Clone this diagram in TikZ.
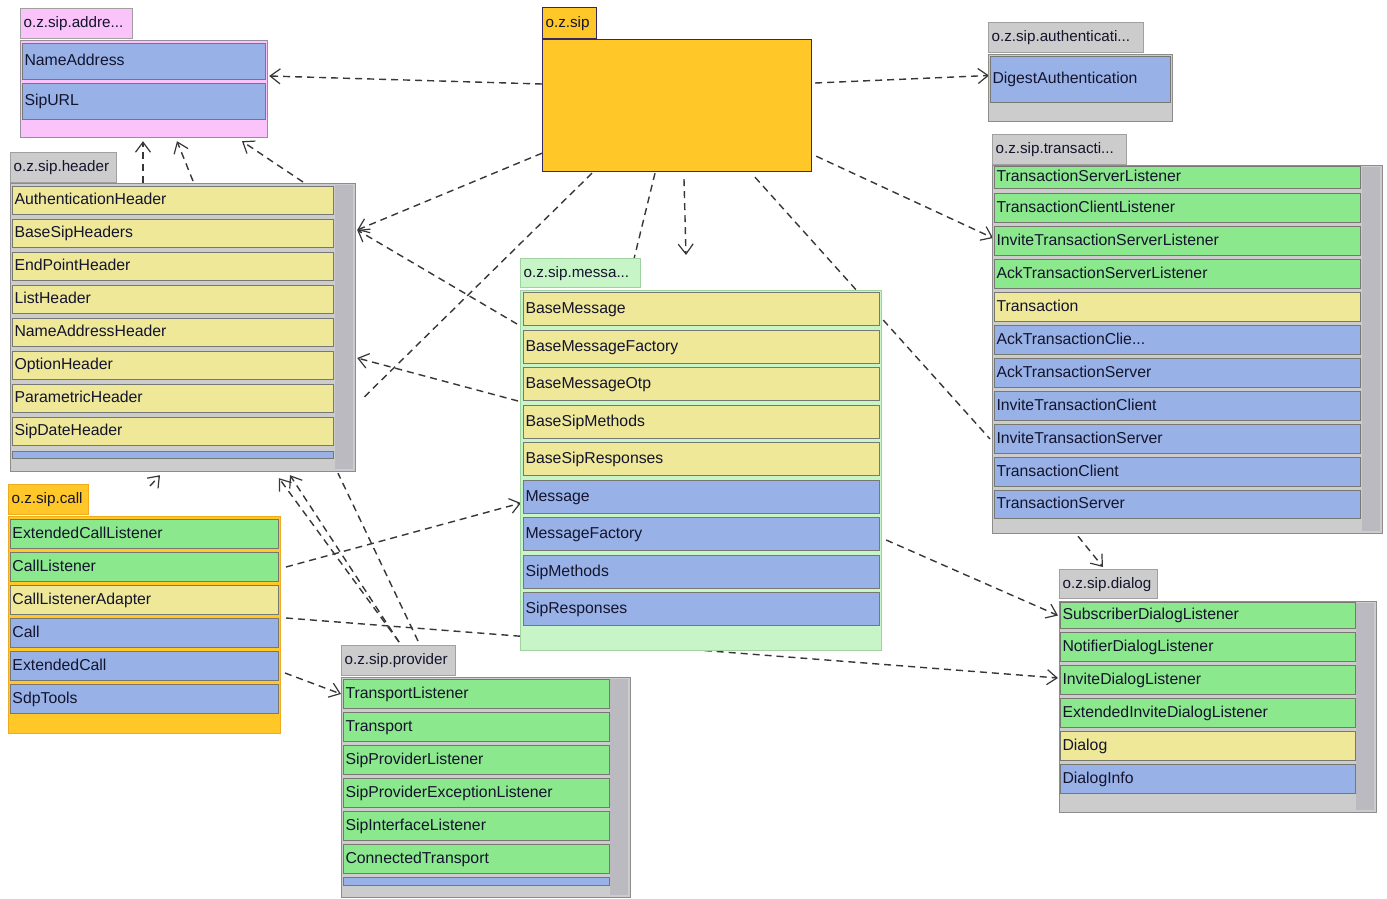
\documentclass[tikz,border=0pt]{standalone}
\usepackage{fontspec}
\setmainfont{Liberation Sans}
\usetikzlibrary{arrows.meta,calc}
\pgfdeclarelayer{back}
\pgfdeclarelayer{lines}
\pgfsetlayers{back,lines,main}

\definecolor{rowblue}{RGB}{152,178,232}
\definecolor{rowyellow}{RGB}{238,232,152}
\definecolor{rowgreen}{RGB}{140,232,140}
\definecolor{msggreen}{RGB}{200,245,200}
\definecolor{msgline}{RGB}{160,210,160}
\definecolor{pkggray}{RGB}{204,204,204}
\definecolor{scrollgray}{RGB}{186,186,192}
\definecolor{pkgpink}{RGB}{250,195,250}
\definecolor{pinkline}{RGB}{150,140,155}
\definecolor{pkgorange}{RGB}{255,200,40}
\definecolor{callline}{RGB}{240,170,30}
\definecolor{sipline}{RGB}{55,40,100}
\definecolor{tabline}{RGB}{160,160,160}
\definecolor{bodyline}{RGB}{140,140,140}
\definecolor{rowline}{RGB}{120,120,115}
\definecolor{connector}{RGB}{55,55,55}
\definecolor{txt}{RGB}{20,20,45}

\newcommand\rowfont{\fontsize{15.8}{18}\selectfont}
\newcommand\tabfont{\fontsize{15.2}{18}\selectfont}

\tikzset{
  pkgbox/.style={draw=#1, line width=1.2pt, anchor=north west, inner sep=0pt},
  tabbox/.style={draw=#1, line width=1.2pt, anchor=north west, inner xsep=3pt, inner ysep=0pt, font=\tabfont, text=txt, align=left, text height=11pt, text depth=3pt},
  rowbox/.style={draw=rowline, line width=1pt, anchor=north west, inner xsep=2pt, inner ysep=0pt, align=left, font=\rowfont, text=txt, text height=11.5pt, text depth=3.5pt},
  depline/.style={draw=connector, line width=1.4pt, dash pattern=on 7pt off 5pt, -{Straight Barb[length=10pt,width=15pt,line width=1.2pt]}},
  plainline/.style={draw=connector, line width=1.4pt, dash pattern=on 7pt off 5pt},
}

% name, x, y, w, h, fill, draw, text
\newcommand\pkgtab[8]{\node[tabbox=#7, fill=#6, text width=#4pt-6pt, minimum height=#5pt] (#1) at (#2,#3) {#8};}
% name, x, y, w, h, fill, draw
\newcommand\pkgbody[7]{\node[pkgbox=#7, fill=#6, minimum width=#4pt, minimum height=#5pt] (#1) at (#2,#3) {};}
% name, x, y, w, h, fill, text
\newcommand\crow[7]{\node[rowbox, fill=#6, text width=#4pt-4pt, minimum height=#5pt] (#1) at (#2,#3) {#7};}

\begin{document}
\begin{tikzpicture}[x=1pt,y=-1pt]
\useasboundingbox (0,0) rectangle (1387,899);
\begin{pgfonlayer}{back}
  \fill[white] (0,0) rectangle (1387,899);
\end{pgfonlayer}

% ---------------- o.z.sip.address
\pkgtab{adrT}{20}{8}{112}{30}{pkgpink}{tabline}{o.z.sip.addre...}
\pkgbody{adrB}{20}{40}{247}{97}{pkgpink}{pinkline}
\crow{NameAddress}{22}{43}{243}{36}{rowblue}{NameAddress}
\crow{SipURL}{22}{83}{243}{36}{rowblue}{SipURL}

% ---------------- o.z.sip
\pkgtab{sipT}{542}{7}{54}{31}{pkgorange}{sipline}{o.z.sip}
\pkgbody{sipB}{542}{39}{269}{132}{pkgorange}{sipline}

% ---------------- o.z.sip.authentication
\pkgtab{authT}{988}{22}{155}{30}{pkggray}{tabline}{o.z.sip.authenticati...}
\pkgbody{authB}{988}{54}{184}{67}{pkggray}{bodyline}
\crow{DigestAuthentication}{990}{56}{180}{46}{rowblue}{DigestAuthentication}

% ---------------- o.z.sip.transaction
\pkgtab{trT}{992}{134}{134}{30}{pkggray}{tabline}{o.z.sip.transacti...}
\pkgbody{trB}{992}{165}{390}{368}{pkggray}{bodyline}
\fill[scrollgray] (1362,167) rectangle (1380,531);
\crow{TransactionServerListener}{994}{166}{366}{22}{rowgreen}{TransactionServerListener}
\crow{TransactionClientListener}{994}{193}{366}{29}{rowgreen}{TransactionClientListener}
\crow{InviteTransactionServerListener}{994}{226}{366}{29}{rowgreen}{InviteTransactionServerListener}
\crow{AckTransactionServerListener}{994}{259}{366}{29}{rowgreen}{AckTransactionServerListener}
\crow{Transaction}{994}{292}{366}{29}{rowyellow}{Transaction}
\crow{AckTransactionClient}{994}{325}{366}{29}{rowblue}{AckTransactionClie...}
\crow{AckTransactionServer}{994}{358}{366}{29}{rowblue}{AckTransactionServer}
\crow{InviteTransactionClient}{994}{391}{366}{29}{rowblue}{InviteTransactionClient}
\crow{InviteTransactionServer}{994}{424}{366}{29}{rowblue}{InviteTransactionServer}
\crow{TransactionClient}{994}{457}{366}{29}{rowblue}{TransactionClient}
\crow{TransactionServer}{994}{490}{366}{28}{rowblue}{TransactionServer}

% ---------------- o.z.sip.header
\pkgtab{hdrT}{10}{152}{106}{30}{pkggray}{tabline}{o.z.sip.header}
\pkgbody{hdrB}{10}{183}{345}{288}{pkggray}{bodyline}
\fill[scrollgray] (335,185) rectangle (353,469);
\crow{AuthenticationHeader}{12}{186}{321}{28}{rowyellow}{AuthenticationHeader}
\crow{BaseSipHeaders}{12}{219}{321}{28}{rowyellow}{BaseSipHeaders}
\crow{EndPointHeader}{12}{252}{321}{28}{rowyellow}{EndPointHeader}
\crow{ListHeader}{12}{285}{321}{28}{rowyellow}{ListHeader}
\crow{NameAddressHeader}{12}{318}{321}{28}{rowyellow}{NameAddressHeader}
\crow{OptionHeader}{12}{351}{321}{28}{rowyellow}{OptionHeader}
\crow{ParametricHeader}{12}{384}{321}{28}{rowyellow}{ParametricHeader}
\crow{SipDateHeader}{12}{417}{321}{28}{rowyellow}{SipDateHeader}
\filldraw[draw=rowline, fill=rowblue, line width=1pt] (12,451) rectangle (333,458);

% ---------------- o.z.sip.message
\pkgtab{msgT}{520}{258}{120}{29}{msggreen}{msgline}{o.z.sip.messa...}
\pkgbody{msgB}{520}{290}{361}{360}{msggreen}{msgline}
\crow{BaseMessage}{523}{292}{356}{33}{rowyellow}{BaseMessage}
\crow{BaseMessageFactory}{523}{330}{356}{33}{rowyellow}{BaseMessageFactory}
\crow{BaseMessageOtp}{523}{367}{356}{33}{rowyellow}{BaseMessageOtp}
\crow{BaseSipMethods}{523}{405}{356}{33}{rowyellow}{BaseSipMethods}
\crow{BaseSipResponses}{523}{442}{356}{33}{rowyellow}{BaseSipResponses}
\crow{Message}{523}{480}{356}{33}{rowblue}{Message}
\crow{MessageFactory}{523}{517}{356}{33}{rowblue}{MessageFactory}
\crow{SipMethods}{523}{555}{356}{33}{rowblue}{SipMethods}
\crow{SipResponses}{523}{592}{356}{33}{rowblue}{SipResponses}

% ---------------- o.z.sip.call
\pkgtab{callT}{8}{484}{80}{30}{pkgorange}{callline}{o.z.sip.call}
\pkgbody{callB}{8}{516}{272}{217}{pkgorange}{callline}
\crow{ExtendedCallListener}{10}{519}{268}{29}{rowgreen}{ExtendedCallListener}
\crow{CallListener}{10}{552}{268}{29}{rowgreen}{CallListener}
\crow{CallListenerAdapter}{10}{585}{268}{29}{rowyellow}{CallListenerAdapter}
\crow{Call}{10}{618}{268}{29}{rowblue}{Call}
\crow{ExtendedCall}{10}{651}{268}{29}{rowblue}{ExtendedCall}
\crow{SdpTools}{10}{684}{268}{29}{rowblue}{SdpTools}

% ---------------- o.z.sip.provider
\pkgtab{provT}{341}{645}{114}{30}{pkggray}{tabline}{o.z.sip.provider}
\pkgbody{provB}{341}{677}{289}{220}{pkggray}{bodyline}
\fill[scrollgray] (610,679) rectangle (628,895);
\crow{TransportListener}{343}{679}{266}{29}{rowgreen}{TransportListener}
\crow{Transport}{343}{712}{266}{29}{rowgreen}{Transport}
\crow{SipProviderListener}{343}{745}{266}{29}{rowgreen}{SipProviderListener}
\crow{SipProviderExceptionListener}{343}{778}{266}{29}{rowgreen}{SipProviderExceptionListener}
\crow{SipInterfaceListener}{343}{811}{266}{29}{rowgreen}{SipInterfaceListener}
\crow{ConnectedTransport}{343}{844}{266}{29}{rowgreen}{ConnectedTransport}
\filldraw[draw=rowline, fill=rowblue, line width=1pt] (343,877) rectangle (609,885);

% ---------------- o.z.sip.dialog
\pkgtab{dlgT}{1059}{569}{98}{29}{pkggray}{tabline}{o.z.sip.dialog}
\pkgbody{dlgB}{1059}{601}{317}{211}{pkggray}{bodyline}
\fill[scrollgray] (1356,603) rectangle (1374,810);
\crow{SubscriberDialogListener}{1060}{602}{295}{26}{rowgreen}{SubscriberDialogListener}
\crow{NotifierDialogListener}{1060}{632}{295}{29}{rowgreen}{NotifierDialogListener}
\crow{InviteDialogListener}{1060}{665}{295}{29}{rowgreen}{InviteDialogListener}
\crow{ExtendedInviteDialogListener}{1060}{698}{295}{29}{rowgreen}{ExtendedInviteDialogListener}
\crow{Dialog}{1060}{731}{295}{29}{rowyellow}{Dialog}
\crow{DialogInfo}{1060}{764}{295}{29}{rowblue}{DialogInfo}

% ---------------- connectors
\begin{pgfonlayer}{lines}
  % from o.z.sip
  \draw[depline] ($(sipB.north west)+(0,45)$) -- ($(adrB.north east)+(1,36)$);
  \draw[depline] ($(sipB.north east)+(3,44)$) -- ($(DigestAuthentication.west)+(-1,-4)$);
  \draw[depline] ($(sipB.south east)+(4,-16)$) -- ($(InviteTransactionServerListener.west)+(-1,-3)$);
  \draw[depline] ($(sipB.south west)+(0,-19)$) -- ($(hdrB.north east)+(1,47)$);
  \draw[depline] ($(sipB.south west)+(142,7)$) -- ($(msgB.north west)+(166,-35)$);
  \draw[plainline] ($(sipB.south west)+(113,1)$) -- ($(msgT.north east)+(-7,0)$);
  \draw[plainline] ($(sipB.south west)+(50,1)$) -- ($(hdrB.north east)+(5,217)$);
  \draw[plainline] ($(sipB.south west)+(213,5)$) -- ($(InviteTransactionServer.west)+(-4,0)$);
  % header -> address
  \draw[depline] ($(hdrB.north west)+(133,0)$) -- ($(adrB.south west)+(123,3)$);
  \draw[depline] ($(hdrB.north west)+(183,-2)$) -- ($(adrB.south west)+(157,3)$);
  \draw[depline] ($(hdrB.north west)+(293,-1)$) -- ($(adrB.south west)+(222,3)$);
  % message -> header
  \draw[depline] ($(msgB.north west)+(-3,34)$) -- ($(hdrB.north east)+(1,47)$);
  \draw[depline] ($(msgB.north west)+(-2,111)$) -- ($(hdrB.north east)+(1,175)$);
  % call -> header, provider -> header
  \draw[depline] ($(callT.north west)+(142,2)$) -- ($(hdrB.south west)+(150,3)$);
  \draw[depline] ($(provT.north west)+(58,-3)$) -- ($(hdrB.south west)+(280,3)$);
  \draw[depline] ($(provT.north west)+(58,-3)$) -- ($(hdrB.south west)+(269,6)$);
  \draw[plainline] ($(provT.north west)+(77,-4)$) -- ($(hdrB.south west)+(328,1)$);
  % call -> message, dialog, provider
  \draw[depline] ($(CallListener.east)+(7,0)$) -- ($(Message.west)+(-2,6)$);
  \draw[depline] ($(CallListenerAdapter.east)+(7,18)$) -- ($(InviteDialogListener.west)+(-2,-2)$);
  \draw[depline] ($(ExtendedCall.east)+(6,7)$) -- ($(TransportListener.west)+(-2,0)$);
  % message -> dialog, transaction -> dialog
  \draw[depline] ($(msgB.north east)+(4,250)$) -- ($(SubscriberDialogListener.west)+(-2,0)$);
  \draw[depline] ($(trB.south west)+(86,2)$) -- ($(dlgT.north west)+(44,-2)$);
\end{pgfonlayer}
\end{tikzpicture}
\end{document}
